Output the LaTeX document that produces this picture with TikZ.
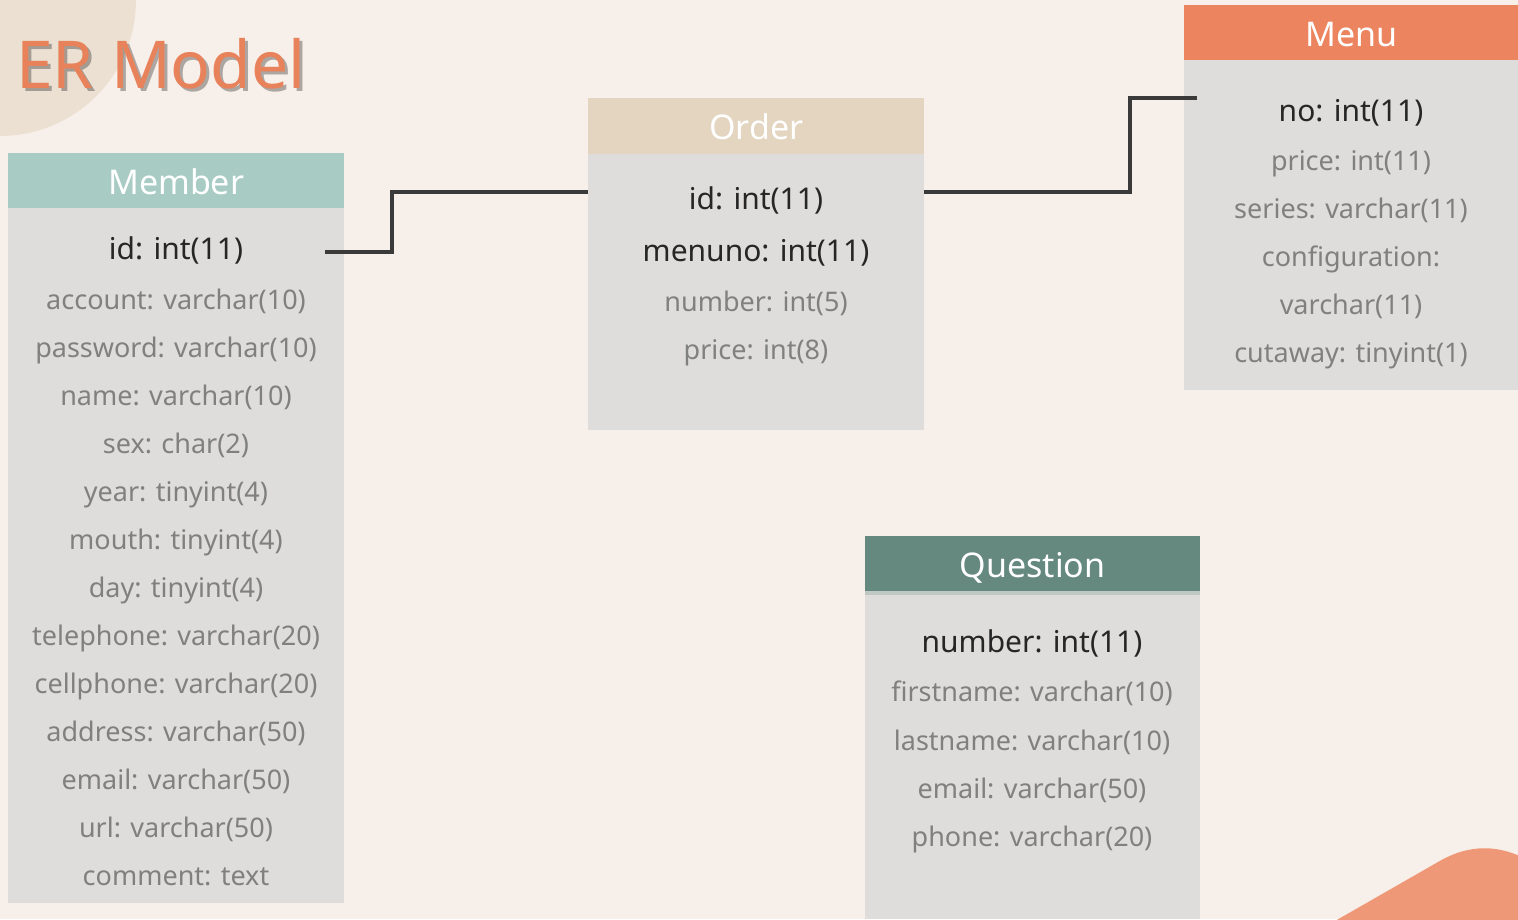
\documentclass[tikz,border=0pt]{standalone}
\usepackage{fontspec}
\setmainfont{Noto Sans}
\definecolor{bgc}{HTML}{F7EFE9}
\definecolor{circc}{HTML}{EBE0D2}
\definecolor{titlec}{HTML}{E8825A}
\definecolor{memc}{HTML}{A8CCC4}
\definecolor{ordc}{HTML}{E3D5C0}
\definecolor{menc}{HTML}{EC855F}
\definecolor{questc}{HTML}{66897F}
\definecolor{stripc}{HTML}{BFC8C3}
\definecolor{bodyc}{HTML}{DEDDDB}
\definecolor{darkt}{HTML}{262626}
\definecolor{grayt}{HTML}{808080}
\definecolor{linec}{HTML}{3A3A3A}
\definecolor{blobc}{HTML}{EE9877}
\begin{document}
\begin{tikzpicture}[x=1pt,y=-1pt,
  hdr/.style={minimum height=55, inner sep=0, text height=27, text depth=0, anchor=north west, text=white, font=\fontsize{34}{38}\selectfont},
  keyrow/.style={inner sep=0, text height=21.5, text depth=0, text=darkt, font=\fontsize{30}{34}\selectfont},
  attrow/.style={inner sep=0, text height=19.3, text depth=0, text=grayt, font=\fontsize{27}{31}\selectfont},
  conn/.style={draw=linec, line width=4.5pt}]
\useasboundingbox (0,0) rectangle (1518,919);
\fill[bgc] (0,0) rectangle (1518,919);
\begin{scope}
  \clip (0,0) rectangle (1518,919);
  \fill[circc] (0,0) circle (136);
  \fill[blobc] (1328,925) -- (1438,862) .. controls (1470,843) and (1500,845) .. (1528,860) -- (1528,925) -- cycle;
\end{scope}
% title
\node[anchor=base west, inner sep=0, text=black, opacity=0.3, font=\fontsize{66}{70}\selectfont] (titleshadow) at (19,91) {ER Model};
\node[anchor=base west, inner sep=0, text=titlec, font=\fontsize{66}{70}\selectfont] (title) at (16,88) {ER Model};
% Member
\fill[bodyc] (8,207) rectangle (344,903);
\node[hdr, fill=memc, minimum width=336] (memh) at (8,153) {Member};
\node[keyrow] (m0) at (176,249) {id: int(11)};
\node[attrow] (m1) at (176,300) {account: varchar(10)};
\node[attrow] (m2) at (176,348) {password: varchar(10)};
\node[attrow] (m3) at (176,396) {name: varchar(10)};
\node[attrow] (m4) at (176,444) {sex: char(2)};
\node[attrow] (m5) at (176,492) {year: tinyint(4)};
\node[attrow] (m6) at (176,540) {mouth: tinyint(4)};
\node[attrow] (m7) at (176,588) {day: tinyint(4)};
\node[attrow] (m8) at (176,636) {telephone: varchar(20)};
\node[attrow] (m9) at (176,684) {cellphone: varchar(20)};
\node[attrow] (m10) at (176,732) {address: varchar(50)};
\node[attrow] (m11) at (176,780) {email: varchar(50)};
\node[attrow] (m12) at (176,828) {url: varchar(50)};
\node[attrow] (m13) at (176,876) {comment: text};
% Order
\fill[bodyc] (588,154) rectangle (924,430);
\node[hdr, fill=ordc, minimum width=336, minimum height=56] (ordh) at (588,98) {Order};
\node[keyrow] (o0) at (756,199) {id: int(11)};
\node[keyrow] (o1) at (756,251) {menuno: int(11)};
\node[attrow] (o2) at (756,302) {number: int(5)};
\node[attrow] (o3) at (756,350) {price: int(8)};
% Menu
\fill[bodyc] (1184,60) rectangle (1518,390);
\node[hdr, fill=menc, minimum width=334] (menh) at (1184,5) {Menu};
\node[keyrow] (n0) at (1351,111) {no: int(11)};
\node[attrow] (n1) at (1351,161) {price: int(11)};
\node[attrow] (n2) at (1351,209) {series: varchar(11)};
\node[attrow] (n3) at (1351,257) {configuration:};
\node[attrow] (n4) at (1351,305) {varchar(11)};
\node[attrow] (n5) at (1351,353) {cutaway: tinyint(1)};
% Question
\fill[bodyc] (865,591) rectangle (1200,919);
\fill[stripc] (865,591) rectangle (1200,595);
\node[hdr, fill=questc, minimum width=335] (qh) at (865,536) {Question};
\node[keyrow] (q0) at (1032,642) {number: int(11)};
\node[attrow] (q1) at (1032,692) {firstname: varchar(10)};
\node[attrow] (q2) at (1032,741) {lastname: varchar(10)};
\node[attrow] (q3) at (1032,789) {email: varchar(50)};
\node[attrow] (q4) at (1032,837) {phone: varchar(20)};
% connectors
\coordinate (c1a) at (325,252);
\coordinate (c1b) at (588,192);
\coordinate (c2a) at (924,192);
\coordinate (c2b) at (1197,98);
\draw[conn] (c1a) -- ++(67,0) |- (c1b);
\draw[conn] (c2a) -- ++(206,0) |- (c2b);
\end{tikzpicture}
\end{document}
